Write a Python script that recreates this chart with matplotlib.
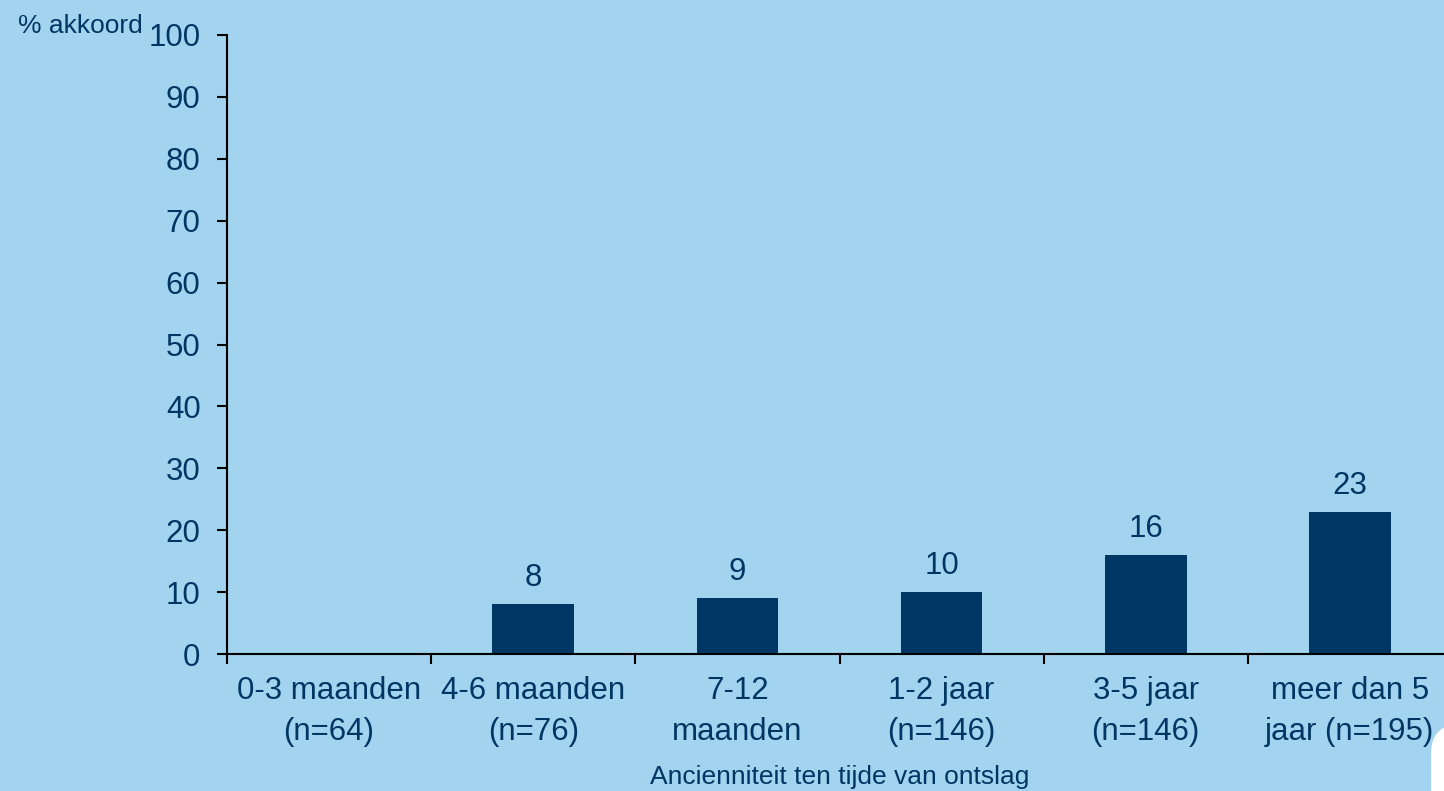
import matplotlib
matplotlib.use("Agg")
import matplotlib.pyplot as plt
import numpy as np
from matplotlib.patches import FancyBboxPatch

# Data
categories = ["0-3 maanden\n(n=64)", "4-6 maanden\n(n=76)", "7-12\nmaanden",
              "1-2 jaar\n(n=146)", "3-5 jaar\n(n=146)", "meer dan 5\njaar (n=195)"]
values = [np.nan, 8, 9, 10, 16, 23]
y_ticks = [0, 10, 20, 30, 40, 50, 60, 70, 80, 90, 100]

bg = "#A2D3EF"
navy = "#003663"

plt.rcParams["font.family"] = ["Liberation Sans", "DejaVu Sans"]

W, H = 1444, 791
fig = plt.figure(figsize=(W / 100, H / 100), dpi=100, facecolor=bg)
# axes extends a bit past the right edge, as in the original (cropped)
ax = fig.add_axes([227 / W, 1 - 654 / H, 1225 / W, 619 / H])
ax.set_facecolor(bg)

x = np.arange(len(categories))
ax.bar(x, values, width=0.4, color=navy, zorder=2)

for xi, v in zip(x, values):
    if np.isnan(v):
        continue
    ax.annotate(f"{v:.0f}", (xi, v), xytext=(0, 8), textcoords="offset points",
                ha="center", va="bottom", fontsize=22.5, color=navy)

ax.set_xlim(-0.5, len(categories) - 0.5)
ax.set_ylim(0, 100)

# ticks at category boundaries, labels at the centers
ax.set_xticks(np.arange(-0.5, len(categories) + 0.5, 1.0))
ax.set_xticklabels([])
ax.set_xticks(x, minor=True)
ax.set_xticklabels(categories, minor=True, fontsize=22.5, color=navy, linespacing=1.45)
ax.tick_params(axis="x", which="major", direction="out", length=7, width=1.5, color="black")
ax.tick_params(axis="x", which="minor", length=0, pad=16)

ax.set_yticks(y_ticks)
ax.set_yticklabels([str(t) for t in y_ticks], fontsize=22.5, color=navy)
ax.tick_params(axis="y", direction="out", length=7, width=1.5, color="black", pad=12)

for side in ["top", "right"]:
    ax.spines[side].set_visible(False)
for side in ["left", "bottom"]:
    ax.spines[side].set_linewidth(1.5)
    ax.spines[side].set_color("black")

ax.set_xlabel("Ancienniteit ten tijde van ontslag", fontsize=19, color=navy, labelpad=13)

fig.text(18 / W, 1 - 33 / H, "% akkoord", fontsize=19, color=navy, ha="left", va="baseline")

# white rounded corner at the lower right
corner = FancyBboxPatch((1431, -40), 80, 40 + (H - 724), boxstyle="round,pad=0,rounding_size=30",
                        transform=None, facecolor="white", edgecolor="none", zorder=5)
fig.patches.append(corner)

fig.savefig("out.png", dpi=100, facecolor=bg)
